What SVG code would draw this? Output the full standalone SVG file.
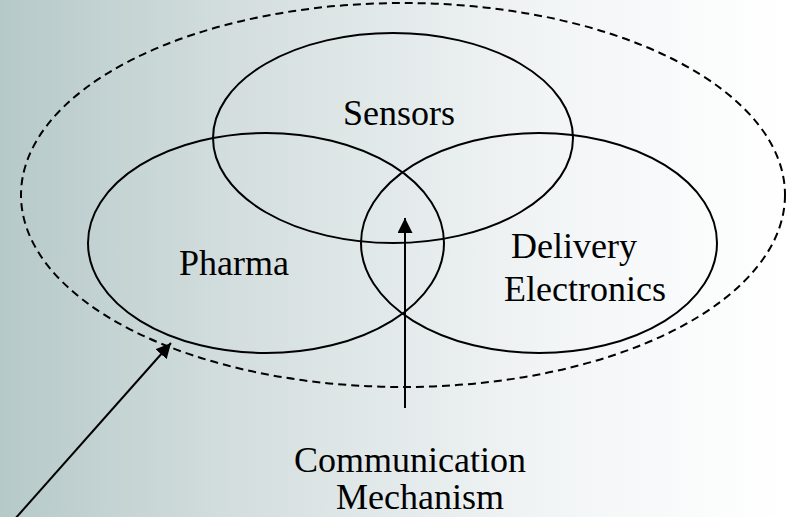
<svg xmlns="http://www.w3.org/2000/svg" width="787" height="517" viewBox="0 0 787 517">
<defs>
<linearGradient id="bg" x1="0" y1="0" x2="1" y2="0">
<stop offset="0" stop-color="#b6c9c9"/>
<stop offset="0.3" stop-color="#d4dede"/>
<stop offset="0.7" stop-color="#f2f5f6"/>
<stop offset="1" stop-color="#ffffff"/>
</linearGradient>
<marker id="ah" viewBox="0 0 10 10" refX="10" refY="5" markerWidth="7.5" markerHeight="7.5" markerUnits="strokeWidth" orient="auto">
<path d="M0,0 L10,5 L0,10 z" fill="#000"/>
</marker>
</defs>
<style>
.set{fill:none;stroke:#000;stroke-width:2}
.sys{fill:none;stroke:#000;stroke-width:2;stroke-dasharray:8 5}
.lbl{font-family:"Liberation Serif","Times New Roman",serif;font-size:36px;fill:#000;text-anchor:middle}
.conn{stroke:#000;stroke-width:2;fill:none}
</style>
<rect width="787" height="517" fill="url(#bg)"/>
<g id="system">
<ellipse class="sys" cx="403" cy="195" rx="382" ry="192"/>
</g>
<g id="sensors">
<ellipse class="set" cx="393" cy="138" rx="180" ry="105"/>
<text class="lbl" x="399" y="125">Sensors</text>
</g>
<g id="pharma">
<ellipse class="set" cx="266" cy="243" rx="178" ry="110"/>
<text class="lbl" x="234" y="275">Pharma</text>
</g>
<g id="delivery">
<ellipse class="set" cx="539" cy="243" rx="178" ry="110"/>
<text class="lbl" x="574" y="258">Delivery</text>
<text class="lbl" x="585" y="301">Electronics</text>
</g>
<g id="comm">
<text class="lbl" x="410" y="472">Communication</text>
<text class="lbl" x="420" y="509">Mechanism</text>
</g>
<g id="connectors">
<line class="conn" x1="405" y1="408" x2="405" y2="218" marker-end="url(#ah)"/>
<line class="conn" x1="14" y1="520" x2="171" y2="343" marker-end="url(#ah)"/>
</g>
</svg>
